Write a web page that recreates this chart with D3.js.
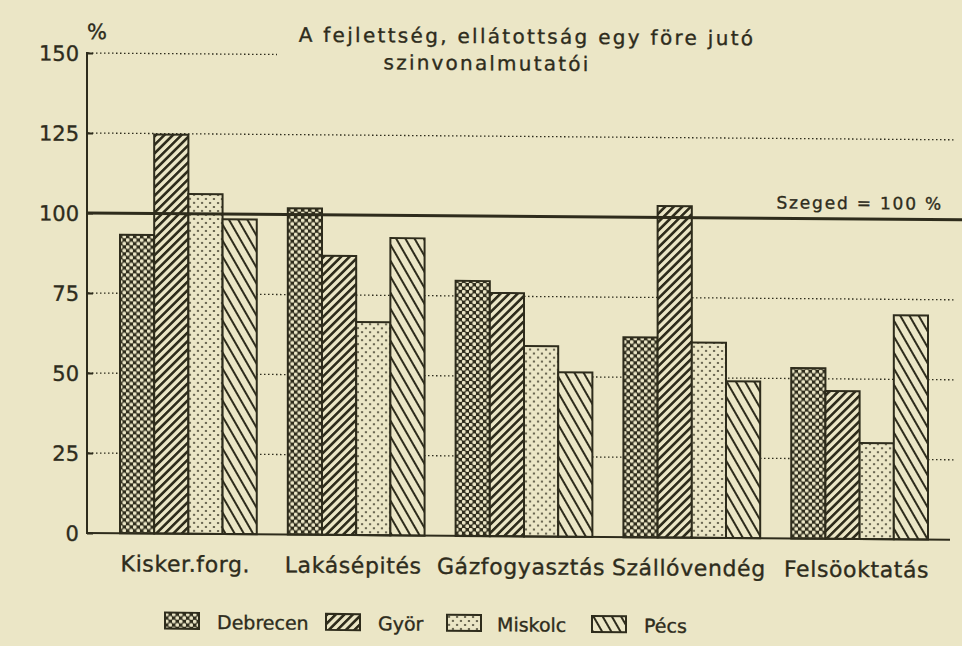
<!DOCTYPE html>
<html>
<head>
<meta charset="utf-8">
<script src="https://cdn.jsdelivr.net/npm/d3@7"></script>
<style>
  body { margin: 0; background: #ebe6c6; }
  svg text { font-family: "DejaVu Sans", sans-serif; fill: #2e2c1c; stroke: #2e2c1c; stroke-width: 0.35px; }
</style>
</head>
<body>
<svg id="chart"></svg>
<script>
var width = 962, height = 646;
var ink = "#2e2c1c", paper = "#ebe6c6";

// data
var categories = ["Kisker.forg.", "Lakásépités", "Gázfogyasztás", "Szállóvendég", "Felsöoktatás"];
var cities = ["Debrecen", "Györ", "Miskolc", "Pécs"];
var debrecen = [93.3, 102, 79.7, 62.5, 53.3];
var gyor = [124.7, 87.2, 76, 103.6, 46.2];
var miskolc = [106.2, 66.6, 59.5, 61, 30];
var pecs = [98.4, 92.9, 51.4, 49, 70];
var yTicks = [0, 25, 50, 75, 100, 125, 150];
var gridTicks = [25, 50, 75, 125];
var titleLines = ["A fejlettség, ellátottság egy före jutó", "szinvonalmutatói"];

var series = [debrecen, gyor, miskolc, pecs];

var svg = d3.select("#chart")
    .attr("width", width)
    .attr("height", height);

svg.append("rect")
    .attr("width", width)
    .attr("height", height)
    .attr("fill", paper);

// the scanned page sags a little to the right, so skew the whole drawing
var g = svg.append("g")
    .attr("transform", "translate(87,0) skewY(0.45) translate(-87,0)");

var x0 = d3.scaleBand().domain(categories).range([120, 928]).paddingInner(0.185);
var x1 = d3.scaleBand().domain(cities).range([0, x0.bandwidth()]);
var y = d3.scaleLinear().domain([0, 150]).range([533, 53]);

// patterns
var defs = svg.append("defs");

var pDeb = defs.append("pattern").attr("id", "p0")
    .attr("patternUnits", "userSpaceOnUse").attr("width", 7).attr("height", 7);
pDeb.append("rect").attr("width", 7).attr("height", 7).attr("fill", ink);
pDeb.append("circle").attr("cx", 1.75).attr("cy", 1.75).attr("r", 1.9).attr("fill", paper);
pDeb.append("circle").attr("cx", 5.25).attr("cy", 5.25).attr("r", 1.9).attr("fill", paper);

var pGyor = defs.append("pattern").attr("id", "p1")
    .attr("patternUnits", "userSpaceOnUse").attr("width", 6).attr("height", 6)
    .attr("patternTransform", "rotate(45)");
pGyor.append("rect").attr("width", 6).attr("height", 6).attr("fill", paper);
pGyor.append("rect").attr("width", 2.6).attr("height", 6).attr("fill", ink);

var pMis = defs.append("pattern").attr("id", "p2")
    .attr("patternUnits", "userSpaceOnUse").attr("width", 8).attr("height", 8);
pMis.append("rect").attr("width", 8).attr("height", 8).attr("fill", paper);
pMis.append("circle").attr("cx", 2).attr("cy", 2).attr("r", 1).attr("fill", ink);
pMis.append("circle").attr("cx", 6).attr("cy", 6).attr("r", 1).attr("fill", ink);

var pPecs = defs.append("pattern").attr("id", "p3")
    .attr("patternUnits", "userSpaceOnUse").attr("width", 8).attr("height", 8)
    .attr("patternTransform", "rotate(-30)");
pPecs.append("rect").attr("width", 8).attr("height", 8).attr("fill", paper);
pPecs.append("rect").attr("width", 2).attr("height", 8).attr("fill", ink);

// dotted grid
g.append("g").selectAll("line")
    .data(gridTicks)
    .join("line")
    .attr("x1", 88).attr("x2", 955)
    .attr("y1", d => y(d)).attr("y2", d => y(d))
    .style("stroke", ink).style("stroke-width", 1.3)
    .style("stroke-dasharray", "1.5,2.5");
g.append("line")
    .attr("x1", 88).attr("x2", 277)
    .attr("y1", y(150)).attr("y2", y(150))
    .style("stroke", ink).style("stroke-width", 1.3)
    .style("stroke-dasharray", "1.5,2.5");

// bars
var gBars = g.append("g");
categories.forEach(function(cat, i) {
    gBars.selectAll(null)
        .data(cities)
        .join("rect")
        .attr("x", c => x0(cat) + x1(c))
        .attr("y", (c, j) => y(series[j][i]))
        .attr("width", x1.bandwidth())
        .attr("height", (c, j) => y(0) - y(series[j][i]))
        .attr("fill", (c, j) => "url(#p" + j + ")")
        .style("stroke", ink)
        .style("stroke-width", 2);
});

// reference line
g.append("line")
    .attr("x1", 87).attr("x2", 962)
    .attr("y1", y(100)).attr("y2", y(100))
    .style("stroke", ink).style("stroke-width", 3);
g.append("text")
    .attr("x", 943).attr("y", y(100) - 10)
    .attr("text-anchor", "end")
    .style("font-size", "17px")
    .style("letter-spacing", "1.8px")
    .text("Szeged = 100 %");

// axes
var yAxis = g.append("g")
    .attr("transform", "translate(87,0)")
    .call(d3.axisRight(y).tickValues(yTicks).tickSize(6).tickFormat(""));
yAxis.select(".domain").remove();
yAxis.selectAll("line").style("stroke", ink).style("stroke-width", 2);
g.append("line")
    .attr("x1", 87).attr("x2", 87).attr("y1", y(150) - 1).attr("y2", y(0))
    .style("stroke", ink).style("stroke-width", 2);

g.append("g").selectAll("text")
    .data(yTicks)
    .join("text")
    .attr("x", 79).attr("y", d => y(d) + 8)
    .attr("text-anchor", "end")
    .style("font-size", "21px")
    .text(d => d);

g.append("line")
    .attr("x1", 86).attr("x2", 950)
    .attr("y1", y(0)).attr("y2", y(0))
    .style("stroke", ink).style("stroke-width", 2);

g.append("g").selectAll("text")
    .data(categories)
    .join("text")
    .attr("x", d => x0(d) + x0.bandwidth() / 2 - 3)
    .attr("y", 571)
    .attr("text-anchor", "middle")
    .style("font-size", "22px")
    .style("letter-spacing", "0.6px")
    .text(d => d);

g.append("text")
    .attr("x", 97).attr("y", 39)
    .attr("text-anchor", "middle")
    .style("font-size", "21px")
    .text("%");

// title
g.append("text").attr("x", 527).attr("y", 40)
    .attr("text-anchor", "middle").style("font-size", "20px")
    .style("letter-spacing", "2.3px").text(titleLines[0]);
g.append("text").attr("x", 487).attr("y", 67)
    .attr("text-anchor", "middle").style("font-size", "20px")
    .style("letter-spacing", "2.2px").text(titleLines[1]);

// legend
var legendX = [165, 326, 447, 592];
var legend = g.append("g").selectAll("g")
    .data(cities)
    .join("g")
    .attr("transform", (d, i) => "translate(" + legendX[i] + ",612)");
legend.append("rect")
    .attr("width", 34).attr("height", 16)
    .attr("fill", (d, i) => "url(#p" + i + ")")
    .style("stroke", ink).style("stroke-width", 2);
legend.append("text")
    .attr("x", (d, i) => i == 2 ? 50 : 52).attr("y", 16)
    .style("font-size", "19px")
    .text(d => d);
</script>
</body>
</html>
